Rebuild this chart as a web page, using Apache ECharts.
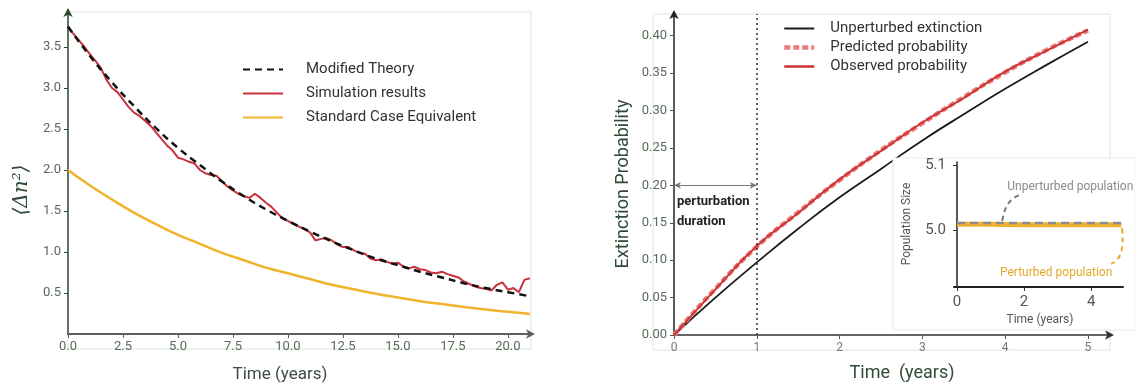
<!DOCTYPE html>
<html>
<head>
<meta charset="utf-8">
<script src="https://cdn.jsdelivr.net/npm/echarts@6/dist/echarts.min.js"></script>
<style>
  html, body { margin: 0; padding: 0; background: #ffffff; }
  #main { width: 1135px; height: 387px; }
</style>
</head>
<body>
<div id="main"></div>
<script>
// ---- Left panel: variance decay over time ----
const theoryTime = [0, 1, 2, 3, 4, 5, 6, 7, 8, 9, 10, 11, 12, 13, 14, 15, 16, 17, 18, 19, 20, 21];
const modifiedTheory = [3.75, 3.39, 3.07, 2.78, 2.51, 2.27, 2.06, 1.86, 1.68, 1.52, 1.38,
  1.25, 1.13, 1.02, 0.92, 0.84, 0.76, 0.69, 0.62, 0.56, 0.51, 0.46];
const standardCase = [2.00, 1.81, 1.64, 1.48, 1.34, 1.21, 1.10, 0.99, 0.90, 0.81, 0.74,
  0.67, 0.60, 0.545, 0.49, 0.445, 0.40, 0.365, 0.33, 0.30, 0.27, 0.245];
// simulation sampled every quarter year, t = 0 ... 21
const simStep = 0.25;
const simulation = [
  3.73, 3.66, 3.58, 3.50, 3.41, 3.33, 3.24, 3.10, 3.00, 2.95, 2.86, 2.77,
  2.70, 2.66, 2.60, 2.54, 2.46, 2.38, 2.30, 2.24, 2.15, 2.13, 2.10, 2.08,
  2.00, 1.96, 1.94, 1.93, 1.86, 1.80, 1.75, 1.71, 1.68, 1.66, 1.71, 1.66,
  1.60, 1.55, 1.48, 1.41, 1.38, 1.34, 1.31, 1.28, 1.24, 1.14, 1.16, 1.17,
  1.14, 1.09, 1.06, 1.06, 1.02, 0.99, 0.98, 0.92, 0.90, 0.91, 0.88, 0.86,
  0.87, 0.82, 0.80, 0.82, 0.79, 0.78, 0.75, 0.74, 0.76, 0.73, 0.71, 0.69,
  0.64, 0.61, 0.58, 0.56, 0.55, 0.53, 0.60, 0.63, 0.54, 0.56, 0.51, 0.66, 0.68
];
const leftXTicks = [0, 2.5, 5, 7.5, 10, 12.5, 15, 17.5, 20];
const leftYTicks = [0.5, 1.0, 1.5, 2.0, 2.5, 3.0, 3.5];

// ---- Right panel: extinction probability ----
const probTime = [0, 0.5, 1, 1.5, 2, 2.5, 3, 3.5, 4, 4.5, 5];
const unperturbedExtinction = [0, 0.050, 0.097, 0.142, 0.184, 0.222, 0.260, 0.295, 0.329, 0.361, 0.392];
const predictedProbability = [0, 0.062, 0.118, 0.164, 0.207, 0.247, 0.283, 0.318, 0.351, 0.381, 0.407];
const observedProbability = [0, 0.061, 0.119, 0.163, 0.208, 0.246, 0.284, 0.317, 0.352, 0.380, 0.408];
const rightXTicks = [0, 1, 2, 3, 4, 5];
const rightYTicks = [0, 0.05, 0.10, 0.15, 0.20, 0.25, 0.30, 0.35, 0.40];
const perturbationEnd = 1;

// ---- Inset: population size ----
const insetTime = [0, 1, 2, 3, 4, 4.9];
const unperturbedPopulation = [5.011, 5.011, 5.011, 5.011, 5.011, 5.011];
const perturbedPopulation = [5.009, 5.009, 5.008, 5.008, 5.008, 5.008];
const insetXTicks = [0, 2, 4];
const insetYTicks = [5.0, 5.1];

const pairs = (xs, ys) => ys.map((v, i) => [xs[i], v]);
const simTime = simulation.map((_, i) => i * simStep);

const FONT = 'Roboto, "Noto Sans", sans-serif';
const tickGreen = '#5a6a5a';
const titleGreen = '#2f4a35';

const chart = echarts.init(document.getElementById('main'));

// legend swatches show only the line style, no marker
const legendBase = {
  orient: 'vertical', itemHeight: 14,
  itemStyle: { opacity: 0, borderWidth: 0 },
  textStyle: { fontSize: 15, color: '#333', fontFamily: FONT }
};

const option = {
  animation: false,
  backgroundColor: '#ffffff',
  textStyle: { fontFamily: FONT },
  grid: [
    { left: 68, top: 12, width: 463, height: 322 },
    { left: 674, top: 14, width: 436, height: 321 },
    { left: 954, top: 162, width: 169, height: 125 }
  ],
  xAxis: [
    {
      gridIndex: 0, type: 'value', min: 0, max: 21.05,
      axisLine: { symbol: ['none', 'arrow'], symbolSize: [7, 9], symbolOffset: [0, 4],
        lineStyle: { color: '#5f5f5f', width: 2 } },
      axisTick: { customValues: leftXTicks, length: 4, lineStyle: { color: '#5f5f5f' } },
      axisLabel: { customValues: leftXTicks, formatter: v => v.toFixed(1),
        color: tickGreen, fontSize: 13, margin: 6, fontFamily: FONT },
      splitLine: { show: false }
    },
    {
      gridIndex: 1, type: 'value', min: 0, max: 5.266,
      axisLine: { symbol: ['none', 'arrow'], symbolSize: [7, 9], symbolOffset: [0, 4],
        lineStyle: { color: '#333333', width: 1.5 } },
      axisTick: { customValues: rightXTicks, length: 4, lineStyle: { color: '#555' } },
      axisLabel: { customValues: rightXTicks, formatter: v => String(v),
        color: '#777', fontSize: 12, margin: 7, fontFamily: FONT },
      splitLine: { show: false }
    },
    {
      gridIndex: 2, type: 'value', min: -0.09, max: 4.95, z: 6,
      axisLine: { lineStyle: { color: '#222', width: 2 } },
      axisTick: { customValues: insetXTicks, length: 4, lineStyle: { color: '#333' } },
      axisLabel: { customValues: insetXTicks, formatter: v => String(v),
        color: '#555', fontSize: 15, margin: 8, fontFamily: FONT },
      splitLine: { show: false }
    }
  ],
  yAxis: [
    {
      gridIndex: 0, type: 'value', min: 0, max: 3.927,
      axisLine: { symbol: ['none', 'arrow'], symbolSize: [7, 9], symbolOffset: [0, 4],
        lineStyle: { color: '#2e4a2e', width: 1.5 } },
      axisTick: { customValues: leftYTicks, length: 4, lineStyle: { color: '#2e4a2e' } },
      axisLabel: { customValues: leftYTicks, formatter: v => v.toFixed(1),
        color: tickGreen, fontSize: 13, margin: 7, fontFamily: FONT },
      splitLine: { show: false }
    },
    {
      gridIndex: 1, type: 'value', min: 0, max: 0.429,
      axisLine: { symbol: ['none', 'arrow'], symbolSize: [7, 9], symbolOffset: [0, 4],
        lineStyle: { color: '#222222', width: 1.5 } },
      axisTick: { customValues: rightYTicks, length: 4, lineStyle: { color: '#555' } },
      axisLabel: { customValues: rightYTicks, formatter: v => v.toFixed(2),
        color: tickGreen, fontSize: 13, margin: 7, fontFamily: FONT },
      splitLine: { show: false }
    },
    {
      gridIndex: 2, type: 'value', min: 4.912, max: 5.105, z: 6,
      axisLine: { lineStyle: { color: '#222', width: 1.5 } },
      axisTick: { customValues: insetYTicks, length: 4, lineStyle: { color: '#333' } },
      axisLabel: { customValues: insetYTicks, formatter: v => v.toFixed(1),
        color: '#555', fontSize: 15, margin: 8, fontFamily: FONT },
      splitLine: { show: false }
    }
  ],
  legend: [
    Object.assign({}, legendBase, {
      left: 237, top: 57, itemWidth: 40, itemGap: 9,
      data: ['Modified Theory', 'Simulation results', 'Standard Case Equivalent'],
      textStyle: Object.assign({}, legendBase.textStyle, { padding: [0, 0, 0, 18] })
    }),
    Object.assign({}, legendBase, {
      left: 777, top: 16, itemWidth: 30, itemGap: 4,
      data: [
        'Unperturbed extinction',
        { name: 'Predicted probability', lineStyle: { width: 4.5 } },
        { name: 'Observed probability', lineStyle: { width: 2.5 } }
      ],
      textStyle: Object.assign({}, legendBase.textStyle, { padding: [0, 0, 0, 11] })
    })
  ],
  series: [
    {
      name: 'Modified Theory', type: 'line', xAxisIndex: 0, yAxisIndex: 0,
      data: pairs(theoryTime, modifiedTheory), smooth: true, showSymbol: false, symbol: 'none',
      lineStyle: { color: '#111111', width: 2.5, type: [7, 5] }, itemStyle: { color: '#111111' }, z: 4
    },
    {
      name: 'Simulation results', type: 'line', xAxisIndex: 0, yAxisIndex: 0,
      data: pairs(simTime, simulation), showSymbol: false, symbol: 'none',
      lineStyle: { color: '#c8323c', width: 2 }, itemStyle: { color: '#c8323c' }, z: 3
    },
    {
      name: 'Standard Case Equivalent', type: 'line', xAxisIndex: 0, yAxisIndex: 0,
      data: pairs(theoryTime, standardCase), smooth: true, showSymbol: false, symbol: 'none',
      lineStyle: { color: '#f0b42c', width: 2.5 }, itemStyle: { color: '#f0b42c' }, z: 3
    },
    {
      name: 'Unperturbed extinction', type: 'line', xAxisIndex: 1, yAxisIndex: 1,
      data: pairs(probTime, unperturbedExtinction), smooth: true, showSymbol: false, symbol: 'none',
      lineStyle: { color: '#1a1a1a', width: 1.8 }, itemStyle: { color: '#1a1a1a' }, z: 3,
      // double-headed arrow marking the perturbation window
      markLine: {
        silent: true, animation: false, label: { show: false },
        symbol: ['arrow', 'arrow'], symbolSize: [5, 7],
        lineStyle: { color: '#777', type: 'solid', width: 1.2 },
        data: [[{ coord: [0, 0.20] }, { coord: [perturbationEnd, 0.20] }]]
      }
    },
    {
      name: 'Predicted probability', type: 'line', xAxisIndex: 1, yAxisIndex: 1,
      data: pairs(probTime, predictedProbability), smooth: true, showSymbol: false, symbol: 'none',
      lineStyle: { color: '#ec7b7b', width: 4.5, type: [6, 3] }, itemStyle: { color: '#ec7b7b' }, z: 3
    },
    {
      name: 'Observed probability', type: 'line', xAxisIndex: 1, yAxisIndex: 1,
      data: pairs(probTime, observedProbability), smooth: true, showSymbol: false, symbol: 'none',
      lineStyle: { color: '#cc3434', width: 2 }, itemStyle: { color: '#cc3434' }, z: 4,
      // end of the perturbation window
      markLine: {
        silent: true, animation: false, label: { show: false }, symbol: 'none',
        lineStyle: { color: '#333', type: [2, 3], width: 1.5 },
        data: [{ xAxis: perturbationEnd }]
      }
    },
    {
      name: 'Perturbed population', type: 'line', xAxisIndex: 2, yAxisIndex: 2,
      data: pairs(insetTime, perturbedPopulation), showSymbol: false, symbol: 'none',
      lineStyle: { color: '#f0b030', width: 5 }, z: 7,
      markLine: {
        silent: true, animation: false, label: { show: false }, symbol: 'none',
        lineStyle: { color: '#222', type: [2, 4], width: 2.5 },
        data: [{ xAxis: perturbationEnd }]
      }
    },
    {
      name: 'Unperturbed population', type: 'line', xAxisIndex: 2, yAxisIndex: 2,
      data: pairs(insetTime, unperturbedPopulation), showSymbol: false, symbol: 'none',
      lineStyle: { color: '#8c8c8c', width: 2.5, type: [8, 5] }, z: 8
    }
  ]
};

chart.setOption(option);

// annotations positioned from data coordinates
const px = (g, x, y) => chart.convertToPixel({ gridIndex: g }, [x, y]);
const arrowStart = px(1, 0, 0.20);
const grayA = px(2, 1.35, 5.014), grayB = px(2, 1.95, 5.055), grayC = px(2, 1.45, 5.05);
const orA = px(2, 4.92, 5.003), orB = px(2, 4.6, 4.948), orC = px(2, 5.02, 4.955);
const grayText = px(2, 1.5, 5.066);
const orText = px(2, 1.28, 4.934);

chart.setOption({
  graphic: [
    { type: 'rect', z: 0, silent: true, shape: { x: 68, y: 12, width: 463, height: 337 },
      style: { fill: 'none', stroke: '#d6e6d6', lineWidth: 1 } },
    { type: 'rect', z: 0, silent: true, shape: { x: 653, y: 14, width: 457, height: 336 },
      style: { fill: 'none', stroke: '#d6e6d6', lineWidth: 1 } },
    { type: 'rect', z: 5, silent: true, shape: { x: 893, y: 158, width: 242, height: 172 },
      style: { fill: '#ffffff', stroke: '#e3ece8', lineWidth: 1 } },
    { type: 'text', z: 10, silent: true, x: 22, y: 190, rotation: Math.PI / 2,
      style: { text: '⟨Δn²⟩', fill: titleGreen, font: 'italic 20px "DejaVu Serif", serif',
        align: 'center', verticalAlign: 'middle' } },
    { type: 'text', z: 10, silent: true, x: 280, y: 375,
      style: { text: 'Time (years)', fill: '#3c4c40', font: '17px ' + FONT,
        align: 'center', verticalAlign: 'middle' } },
    { type: 'text', z: 10, silent: true, x: 623, y: 184, rotation: Math.PI / 2,
      style: { text: 'Extinction Probability', fill: titleGreen, font: '18px ' + FONT,
        align: 'center', verticalAlign: 'middle' } },
    { type: 'text', z: 10, silent: true, x: 902, y: 373,
      style: { text: 'Time  (years)', fill: titleGreen, font: '18px ' + FONT,
        align: 'center', verticalAlign: 'middle' } },
    { type: 'text', z: 10, silent: true, x: arrowStart[0] + 3, y: arrowStart[1] + 16,
      style: { text: 'perturbation', fill: '#222', font: 'bold 13px ' + FONT,
        align: 'left', verticalAlign: 'middle' } },
    { type: 'text', z: 10, silent: true, x: arrowStart[0] + 3, y: arrowStart[1] + 36,
      style: { text: 'duration', fill: '#222', font: 'bold 13px ' + FONT,
        align: 'left', verticalAlign: 'middle' } },
    { type: 'text', z: 10, silent: true, x: 907, y: 224, rotation: Math.PI / 2,
      style: { text: 'Population Size', fill: '#555', font: '12px ' + FONT,
        align: 'center', verticalAlign: 'middle' } },
    { type: 'text', z: 10, silent: true, x: 1040, y: 320,
      style: { text: 'Time (years)', fill: '#555', font: '12px ' + FONT,
        align: 'center', verticalAlign: 'middle' } },
    { type: 'text', z: 10, silent: true, x: grayText[0], y: grayText[1],
      style: { text: 'Unperturbed population', fill: '#8a8a8a', font: '12px ' + FONT,
        align: 'left', verticalAlign: 'middle' } },
    { type: 'text', z: 10, silent: true, x: orText[0], y: orText[1],
      style: { text: 'Perturbed population', fill: '#e3a82a', font: '12px ' + FONT,
        align: 'left', verticalAlign: 'middle' } },
    { type: 'bezierCurve', z: 10, silent: true,
      shape: { x1: grayA[0], y1: grayA[1], x2: grayB[0], y2: grayB[1], cpx1: grayC[0], cpy1: grayC[1] },
      style: { fill: 'none', stroke: '#777', lineWidth: 2, lineDash: [5, 4] } },
    { type: 'bezierCurve', z: 10, silent: true,
      shape: { x1: orA[0], y1: orA[1], x2: orB[0], y2: orB[1], cpx1: orC[0], cpy1: orC[1] },
      style: { fill: 'none', stroke: '#e9a82a', lineWidth: 2, lineDash: [5, 4] } }
  ]
});
</script>
</body>
</html>
